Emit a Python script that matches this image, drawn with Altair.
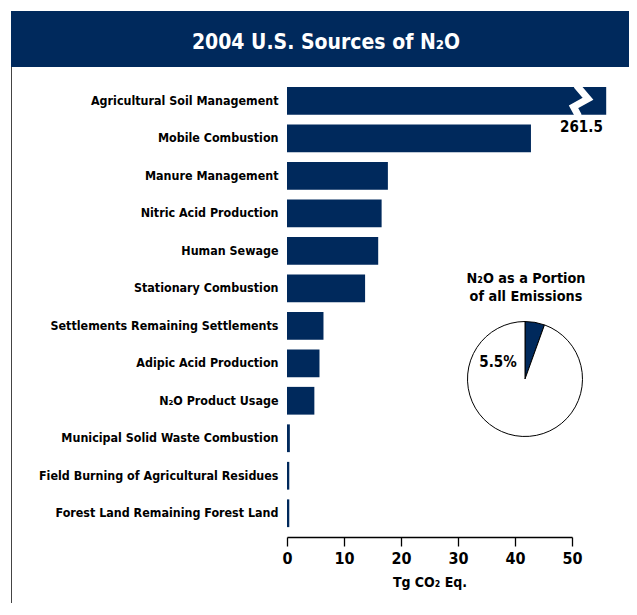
import altair as alt
import pandas as pd

# ---- data ----
sources = [
    "Agricultural Soil Management",
    "Mobile Combustion",
    "Manure Management",
    "Nitric Acid Production",
    "Human Sewage",
    "Stationary Combustion",
    "Settlements Remaining Settlements",
    "Adipic Acid Production",
    "N\u2082O Product Usage",
    "Municipal Solid Waste Combustion",
    "Field Burning of Agricultural Residues",
    "Forest Land Remaining Forest Land",
]
values = [261.5, 42.8, 17.7, 16.6, 16.0, 13.7, 6.4, 5.7, 4.8, 0.5, 0.4, 0.4]
axis_max = 50
bar_cap = 56.0          # where the broken bar is cut off on the drawing
pie_labels = ["N\u2082O", "Other"]
pie_values = [5.5, 94.5]
title_text = "2004 U.S. Sources of N\u2082O"
pie_title = ["N\u2082O as a Portion", "of all Emissions"]
x_title = "Tg CO\u2082 Eq."

NAVY = "#00295c"
FONT = "'DejaVu Sans Condensed', 'Roboto Condensed', 'Liberation Sans Narrow', 'Arial Narrow', 'Liberation Sans', sans-serif"

bars_df = pd.DataFrame({
    "source": sources,
    "value": values,
    "shown": [min(v, bar_cap) for v in values],
})
break_df = pd.DataFrame({"source": [sources[0]], "shown": [51.4]})
label_df = pd.DataFrame({"source": [sources[0]], "shown": [55.4], "txt": [f"{values[0]:.1f}"]})
pie_df = pd.DataFrame({"part": pie_labels, "pct": pie_values, "order": [0, 1]})

xscale = alt.Scale(domain=[0, axis_max], nice=False, zero=True)
yscale = alt.Scale(domain=sources, paddingInner=0.26, paddingOuter=0.13)

bars = alt.Chart(bars_df).mark_bar(color=NAVY).encode(
    x=alt.X("shown:Q", scale=xscale,
            axis=alt.Axis(values=[0, 10, 20, 30, 40, 50], format="d", title=x_title,
                          grid=False, offset=5, domainColor="black", domainWidth=1.3,
                          tickColor="black", tickWidth=1.3, tickSize=9,
                          labelFont=FONT, labelFontWeight="bold", labelFontSize=16,
                          labelColor="black", labelFlush=False, labelPadding=4,
                          titleFont=FONT, titleFontWeight="bold", titleFontSize=14,
                          titleColor="black", titlePadding=9)),
    y=alt.Y("source:N", scale=yscale, sort=sources,
            axis=alt.Axis(title=None, domain=False, ticks=False, grid=False, labelPadding=9,
                          labelFont=FONT, labelFontWeight="bold", labelFontSize=12.4,
                          labelColor="black", labelLimit=400)),
)

brk = alt.Chart(break_df).mark_point(
    shape="M -0.25 -1.1 L 0.57 -0.14 L -0.46 0.43 L -0.1 1.1",
    filled=False, stroke="white", strokeWidth=7, opacity=1, strokeJoin="miter",
).encode(
    x=alt.X("shown:Q", scale=xscale),
    y=alt.Y("source:N", scale=yscale, sort=sources),
    size=alt.value(784),
)

val = alt.Chart(label_df).mark_text(
    font=FONT, fontWeight="bold", fontSize=15, align="right", baseline="middle",
    dy=26, color="black",
).encode(
    x=alt.X("shown:Q", scale=xscale),
    y=alt.Y("source:N", scale=yscale, sort=sources),
    text="txt:N",
)

header = alt.Chart(pd.DataFrame({"t": [title_text]})).mark_rect(color=NAVY).encode(
    x=alt.value(-276), x2=alt.value(360), y=alt.value(-71), y2=alt.value(-15),
)
title = alt.Chart(pd.DataFrame({"t": [title_text]})).mark_text(
    font=FONT, fontWeight="bold", fontSize=21, color="white", align="center",
    baseline="alphabetic",
).encode(text="t:N", x=alt.value(39), y=alt.value(-33))

border = alt.Chart(pd.DataFrame({"t": [0]})).mark_rule(color="#444", strokeWidth=1).encode(
    x=alt.value(-275.5), y=alt.value(-15), y2=alt.value(540),
)

pie = alt.Chart(pie_df).mark_arc(stroke="black", strokeWidth=1).encode(
    theta=alt.Theta("pct:Q", stack=True),
    order=alt.Order("order:Q"),
    color=alt.Color("part:N", scale=alt.Scale(domain=pie_labels, range=[NAVY, "white"]), legend=None),
    x=alt.value(238), y=alt.value(297), radius=alt.value(57.5),
)

pie_t1 = alt.Chart(pd.DataFrame({"t": [pie_title[0]]})).mark_text(
    font=FONT, fontWeight="bold", fontSize=14.3, color="black", align="center", baseline="middle",
).encode(text="t:N", x=alt.value(239), y=alt.value(197))
pie_t2 = alt.Chart(pd.DataFrame({"t": [pie_title[1]]})).mark_text(
    font=FONT, fontWeight="bold", fontSize=14.3, color="black", align="center", baseline="middle",
).encode(text="t:N", x=alt.value(239), y=alt.value(215))

pie_lab = alt.Chart(pd.DataFrame({"t": [f"{pie_values[0]}%"]})).mark_text(
    font=FONT, fontWeight="bold", fontSize=15, color="black", align="center", baseline="middle",
).encode(text="t:N", x=alt.value(211), y=alt.value(280))

chart = alt.layer(header, title, border, bars, brk, val, pie, pie_t1, pie_t2, pie_lab).properties(
    width=285, height=450,
    background="white",
    autosize=alt.AutoSizeParams(type="none"),
    padding={"left": 279, "top": 74, "right": 57, "bottom": 71},
).configure_view(strokeWidth=0, stroke=None)

chart.save("out.html", embed_options={"renderer": "svg", "actions": False})
